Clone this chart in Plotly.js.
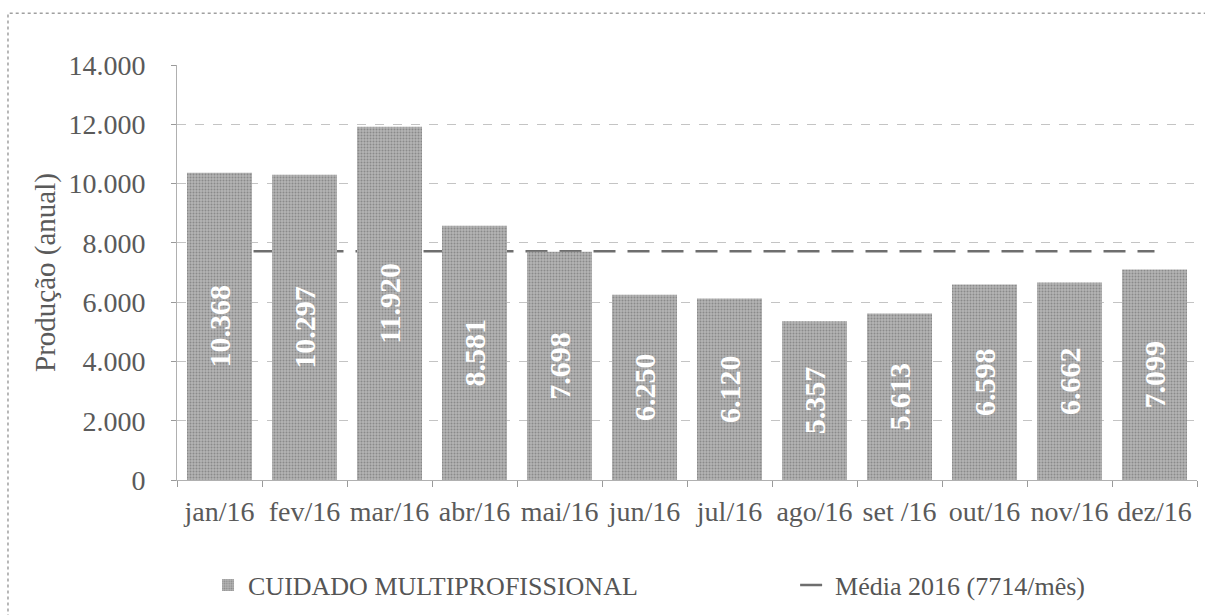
<!DOCTYPE html>
<html>
<head>
<meta charset="utf-8">
<script src="https://cdn.plot.ly/plotly-3.0.1.min.js"></script>
<style>html,body{margin:0;padding:0;background:#fff;}#chart{width:1205px;height:615px;}</style>
</head>
<body>
<div id="chart"></div>
<script>
const categories = ['jan/16','fev/16','mar/16','abr/16','mai/16','jun/16','jul/16','ago/16','set /16','out/16','nov/16','dez/16'];
const production = [10368, 10297, 11920, 8581, 7698, 6250, 6120, 5357, 5613, 6598, 6662, 7099];
const average2016 = [7714, 7714, 7714, 7714, 7714, 7714, 7714, 7714, 7714, 7714, 7714, 7714];
const seriesName = 'CUIDADO MULTIPROFISSIONAL';
const averageName = 'Média 2016 (7714/mês)';
const yTicks = [0, 2000, 4000, 6000, 8000, 10000, 12000, 14000];

const serif = 'Liberation Serif, Times New Roman, serif';

// line on the base axes (drawn first, so below the bars)
const avgTrace = {
  type: 'scatter', mode: 'lines', name: averageName,
  x: categories, y: average2016, xaxis: 'x', yaxis: 'y',
  line: {color: '#6e6e6e', width: 2.5, dash: '22px,12px'},
  legend: 'legend2', hoverinfo: 'skip'
};
// bars on overlaying axes (drawn on top of the line)
const barTrace = {
  type: 'bar', name: seriesName,
  x: categories, y: production, xaxis: 'x2', yaxis: 'y2',
  marker: {color: '#acacac', line: {width: 0},
    pattern: {shape: '.', fgcolor: '#8a8a8a', bgcolor: '#b4b4b4', size: 3, solidity: 0.35}},
  texttemplate: '%{y:,d}', textposition: 'inside', insidetextanchor: 'middle',
  textangle: -90, constraintext: 'none',
  textfont: {family: serif, size: 30, color: '#ffffff', weight: 'bold'},
  legend: 'legend'
};

const xRange = [-0.5, 11.5];
const yRange = [0, 14000];

const layout = {
  width: 1205, height: 615,
  margin: {l: 177, r: 8, t: 65, b: 134},
  paper_bgcolor: '#ffffff', plot_bgcolor: '#ffffff',
  separators: ',.',
  bargap: 0.235,
  showlegend: true,
  font: {family: serif, color: '#5a5a5a'},
  xaxis: {
    type: 'category', range: xRange, tickangle: 0,
    tickson: 'boundaries', ticks: 'outside', ticklen: 6, tickcolor: '#9a9a9a',
    showline: true, linecolor: '#b0b0b0', linewidth: 1, showgrid: false,
    tickfont: {family: serif, size: 28, color: '#5a5a5a'}, ticklabelstandoff: 6
  },
  yaxis: {
    range: yRange, tickvals: yTicks, tickformat: ',d',
    ticks: 'outside', ticklen: 5, tickcolor: '#9a9a9a',
    showline: true, linecolor: '#b0b0b0', linewidth: 1,
    showgrid: true, gridcolor: '#c4c4c4', gridwidth: 1, griddash: 'dash', zeroline: false,
    tickfont: {family: serif, size: 28, color: '#5a5a5a'}, ticklabelstandoff: 20,
    title: {text: 'Produção (anual)', font: {family: serif, size: 29, color: '#5a5a5a'}, standoff: 4}
  },
  xaxis2: {type: 'category', overlaying: 'x', range: xRange, visible: false},
  yaxis2: {overlaying: 'y', range: yRange, visible: false},
  legend: {
    orientation: 'h', x: 0.0304, xanchor: 'left', y: -0.25, yanchor: 'middle',
    font: {family: serif, size: 26, color: '#555555'}, bgcolor: 'rgba(0,0,0,0)'
  },
  legend2: {
    orientation: 'h', x: 0.606, xanchor: 'left', y: -0.25, yanchor: 'middle',
    font: {family: serif, size: 26, color: '#555555'}, bgcolor: 'rgba(0,0,0,0)'
  },
  shapes: [{
    type: 'path', xref: 'paper', yref: 'paper',
    path: 'M -0.1657 -0.36 L -0.1657 1.125 L 1.03 1.125',
    line: {color: '#a0a0a0', width: 1.5, dash: 'dot'}
  }]
};

Plotly.newPlot('chart', [avgTrace, barTrace], layout, {staticPlot: true, displayModeBar: false});
</script>
</body>
</html>
